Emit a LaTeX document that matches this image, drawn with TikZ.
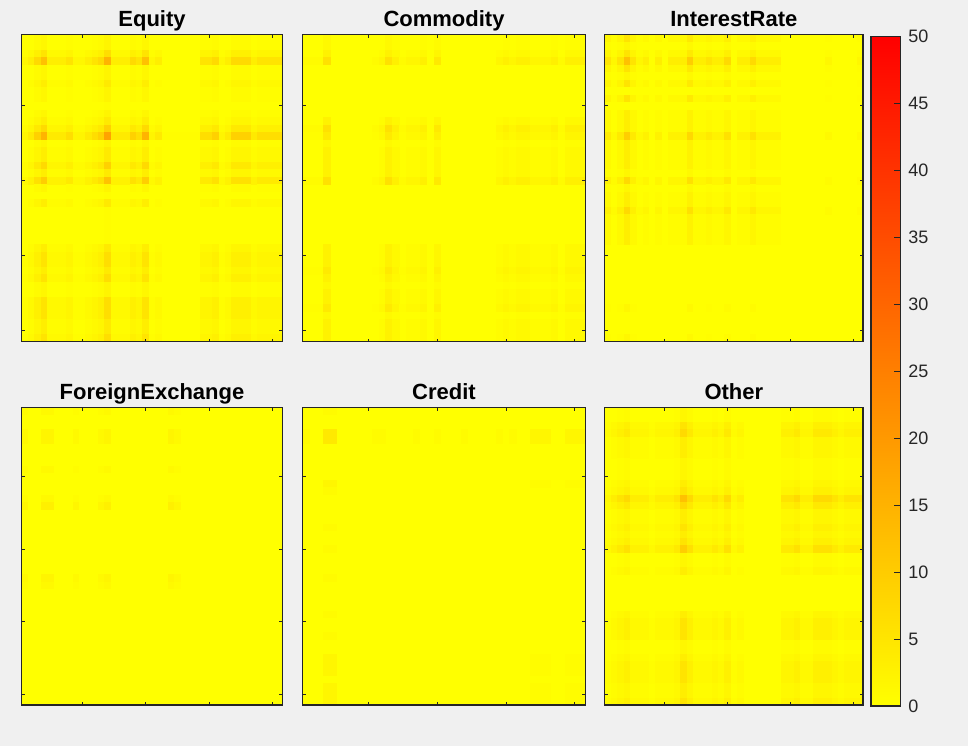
\documentclass[tikz,border=0pt]{standalone}
\usepackage{fontspec}
\setmainfont{Liberation Sans}
\usetikzlibrary{positioning}
\definecolor{figbg}{RGB}{240,240,240}
\definecolor{axisgray}{RGB}{38,38,38}
\definecolor{hmyellow}{RGB}{255,255,0}
\definecolor{hmred}{RGB}{255,0,0}

% row and column weights of each panel (41 each)
\newcommand{\eqrows}{2,2,4,7,2,2,3,2,2,1,2,3,5,8,2,3,3,5,3,6,2,1,3,1,1,1,1,1,3,4,4,3,4,2,2,4,4,4,3,3,4}
\newcommand{\eqcols}{2,3,5,7,3,3,3,4,2,2,3,4,5,8,3,3,3,5,4,7,2,3,1,1,1,1,1,1,4,4,5,2,3,5,5,5,3,4,4,4,4}
\newcommand{\cmrows}{2,2,3,5,1,1,1,1,1,1,1,3,5,4,2,3,3,3,3,5,1,1,1,1,1,1,1,1,3,3,3,4,3,2,3,3,4,2,3,3,3}
\newcommand{\cmcols}{2,2,2,6,1,1,1,1,1,1,2,3,6,4,2,3,3,4,1,5,1,1,1,1,1,1,1,1,3,4,3,4,4,3,3,3,4,2,4,4,4}
\newcommand{\irrows}{4,2,4,7,4,2,4,1,4,1,3,3,3,6,3,3,3,3,2,5,2,3,3,5,3,3,3,3,1,1,1,1,1,1,1,1,2,1,1,1,2}
\newcommand{\ircols}{4,2,4,7,4,2,3,1,3,1,3,3,3,6,3,3,4,3,3,5,1,3,3,5,3,3,3,3,1,1,1,1,1,1,1,2,1,1,1,1,2}
\newcommand{\fxrows}{3,1,1,4,4,1,1,1,3,1,1,1,3,5,1,1,1,1,1,1,1,1,1,4,3,1,1,1,1,1,1,1,1,1,1,1,1,1,1,1,1}
\newcommand{\fxcols}{3,1,1,4,4,1,1,1,3,1,1,1,3,4,1,1,1,1,1,1,1,1,1,4,3,1,1,1,1,1,1,1,1,1,1,1,1,1,1,1,1}
\newcommand{\crrows}{2,1,1,5,5,1,1,1,1,1,3,2,1,1,1,1,2,1,1,2,1,1,1,2,1,1,1,1,2,1,1,2,1,1,3,3,3,1,3,3,3}
\newcommand{\crcols}{2,1,1,5,5,1,1,1,1,1,2,2,1,1,1,1,2,1,1,2,1,1,1,2,1,1,1,1,2,1,2,1,1,3,3,3,1,1,3,3,3}
\newcommand{\otrows}{2,2,4,5,3,3,3,2,2,2,3,4,7,5,3,3,4,3,4,6,2,2,3,1,1,1,1,1,3,4,4,4,2,2,3,4,4,4,3,3,4}
\newcommand{\otcols}{2,3,4,5,3,3,3,2,3,3,3,4,7,5,3,3,3,4,3,5,2,3,1,1,1,1,1,1,4,4,5,3,3,5,5,5,4,3,4,4,4}

% #1 name, #2 left, #3 top, #4 right, #5 bottom, #6 title, #7 rows, #8 cols
\newcommand{\heatpanel}[8]{%
	\fill[hmyellow] (#2,#3) rectangle (#4,#5);
	\foreach \rw [count=\i] in #7 {
		\foreach \cw [count=\j] in #8 {
			\pgfmathsetmacro{\pct}{max(0.01,\rw*\cw-4)^1.35/7}
			\ifdim\pct pt>0.8pt
				\fill[hmred!\pct!hmyellow] ({#2+(#4-#2)/41*(\j-1)},{#3+(#5-#3)/41*(\i-1)}) rectangle ({#2+(#4-#2)/41*\j+0.3},{#3+(#5-#3)/41*\i+0.3});
			\fi
		}
	}
	\foreach \k in {10,20,30,40} {
		\pgfmathsetmacro{\tx}{#2+(#4-#2)/41*(\k-0.5)}
		\pgfmathsetmacro{\ty}{#3+(#5-#3)/41*(\k-0.5)}
		\draw[tickmark] (\tx,#3) -- ++(0,3) (\tx,#5) -- ++(0,-3) (#2,\ty) -- ++(3,0) (#4,\ty) -- ++(-3,0);
	}
	\draw[axisframe] (#2,#3) rectangle (#4,#5);
	\node[paneltitle] (#1) at ({(#2+#4)/2},{#3-8}) {#6};
}

\begin{document}
\begin{tikzpicture}[
		x=0.75pt, y=-0.75pt,
		axisframe/.style={draw=axisgray, line width=0.9pt},
		tickmark/.style={draw=axisgray, line width=0.8pt},
		paneltitle/.style={anchor=base, inner sep=0pt, font=\fontsize{16.5}{18}\selectfont\bfseries},
		cblabel/.style={anchor=west, inner sep=0pt, text=axisgray, font=\fontsize{13.5}{15}\selectfont},
	]
	\fill[figbg] (0,0) rectangle (968,746);

	\heatpanel{equity}{21.7}{34.7}{282.3}{341.7}{Equity}{\eqrows}{\eqcols}
	\heatpanel{commodity}{302.7}{34.7}{585.3}{341.7}{Commodity}{\cmrows}{\cmcols}
	\heatpanel{rates}{604.7}{34.7}{863}{341.7}{InterestRate}{\irrows}{\ircols}
	\heatpanel{fx}{21.7}{407.7}{282.3}{705}{ForeignExchange}{\fxrows}{\fxcols}
	\heatpanel{credit}{302.7}{407.7}{585.3}{705}{Credit}{\crrows}{\crcols}
	\heatpanel{other}{604.7}{407.7}{863}{705}{Other}{\otrows}{\otcols}

	% colour bar
	\shade[bottom color=hmyellow, top color=hmred] (871,36.7) rectangle (900.7,706);
	\foreach \v in {0,5,...,50} {
		\pgfmathsetmacro{\cy}{706-\v*13.386}
		\draw[tickmark] (900.7,\cy) -- ++(-7,0);
		\node[cblabel] (cb\v) at (908,\cy) {\v};
	}
	\draw[axisframe] (871,36.7) rectangle (900.7,706);
\end{tikzpicture}
\end{document}
